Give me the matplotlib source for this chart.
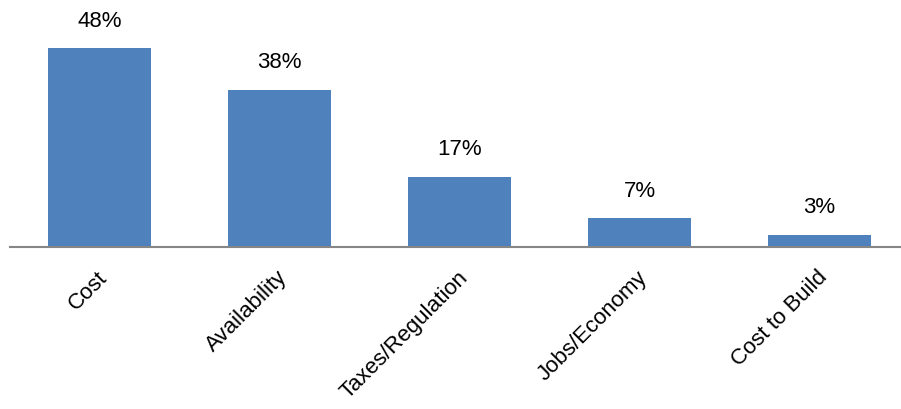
import matplotlib
matplotlib.use("Agg")
import matplotlib.pyplot as plt
from matplotlib.transforms import ScaledTranslation

categories = ["Cost", "Availability", "Taxes/Regulation", "Jobs/Economy", "Cost to Build"]
values = [48, 38, 17, 7, 3]
value_labels = ["48%", "38%", "17%", "7%", "3%"]

plt.rcParams['font.family'] = ['Liberation Sans', 'DejaVu Sans']

fig = plt.figure(figsize=(9.01, 4.10), dpi=100)
ax = fig.add_axes([9.5/901, 162/410, 900/901, 248/410])
x = list(range(len(categories)))
bars = ax.bar(x, values, width=0.57, color="#4F81BD", zorder=2)
ax.set_xlim(-0.5, 4.5)
ax.set_ylim(0, 59.9)
for b, lab in zip(bars, value_labels):
    ax.annotate(lab, (b.get_x() + b.get_width()/2, b.get_height()),
                xytext=(0, 12.5), textcoords="offset points",
                ha="center", va="bottom", fontsize=16)
for s in ["top", "right", "left"]:
    ax.spines[s].set_visible(False)
ax.spines["bottom"].set_color("#868686")
ax.spines["bottom"].set_linewidth(1.5)
ax.set_yticks([])
ax.set_xticks(x)
ax.set_xticklabels(categories, rotation=45, ha="right", va="center",
                   rotation_mode="anchor", fontsize=16)
ax.tick_params(axis="x", length=0, pad=19)
shift = ScaledTranslation(5/100, 0, fig.dpi_scale_trans)
for t in ax.get_xticklabels():
    t.set_transform(t.get_transform() + shift)
fig.savefig("out.png", dpi=100)
